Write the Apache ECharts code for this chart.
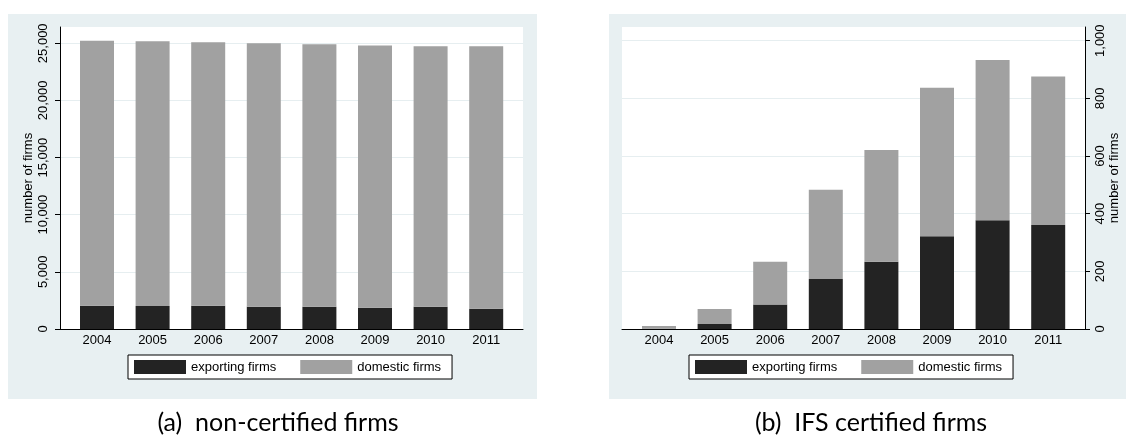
<!DOCTYPE html>
<html>
<head>
<meta charset="utf-8">
<script src="https://cdn.jsdelivr.net/npm/echarts@6/dist/echarts.min.js"></script>
<style>
  html, body { margin: 0; padding: 0; background: #fff; }
  .panel { position: absolute; top: 14px; height: 385px; background: #e8f0f2; }
  #chart { position: absolute; left: 0; top: 0; width: 1126px; height: 441px; }
</style>
</head>
<body>
<div class="panel" style="left:8px;width:529px;"></div>
<div class="panel" style="left:609px;width:517px;"></div>
<div id="chart"></div>
<script>
// data
const years = ['2004', '2005', '2006', '2007', '2008', '2009', '2010', '2011'];
const exportingA = [2040, 2010, 2040, 1950, 1950, 1870, 1950, 1780];
const domesticA = [23190, 23170, 23050, 23050, 22960, 22930, 22790, 22960];
const exportingB = [1, 17, 85, 173, 233, 322, 377, 361];
const domesticB = [9, 52, 148, 310, 388, 515, 556, 515];
const ticksA = [0, 5000, 10000, 15000, 20000, 25000];
const ticksB = [0, 200, 400, 600, 800, 1000];

const dark = '#232323';
const light = '#a1a1a1';
const font = 'Liberation Sans, Arial, sans-serif';

const chart = echarts.init(document.getElementById('chart'));

const fmt = v => Number(v).toLocaleString('en-US');

// one panel = outer grid (white plot area + y axis) and inner grid (bars)
function panel(n, cfg) {
  const g = n * 2;
  const grids = [
    { left: cfg.plotLeft, top: 27, width: 463, height: 302, show: true, backgroundColor: '#fff', borderWidth: 0 },
    { left: cfg.plotLeft + 9.2, top: 27, width: 444.8, height: 302 }
  ];
  const xAxes = [
    { gridIndex: g, type: 'category', data: [''],
      axisLine: { lineStyle: { color: '#000', width: 1 } },
      axisTick: { show: false }, axisLabel: { show: false }, splitLine: { show: false } },
    { gridIndex: g + 1, type: 'category', data: years,
      axisLine: { show: false }, axisTick: { show: false },
      axisLabel: { color: '#000', fontSize: 13, fontFamily: font, margin: 5 } }
  ];
  const yAxes = [
    { gridIndex: g, type: 'value', position: cfg.side, min: 0, max: cfg.max,
      name: 'number of firms', nameLocation: 'middle', nameRotate: 90, nameGap: cfg.nameGap,
      nameTextStyle: { color: '#000', fontSize: 13, fontFamily: font },
      axisLine: { show: true, lineStyle: { color: '#000', width: 1 } },
      axisTick: { show: true, length: 5, customValues: cfg.ticks, lineStyle: { color: '#000' } },
      axisLabel: { rotate: 90, margin: cfg.labelMargin, color: '#000', fontSize: 13, fontFamily: font,
        customValues: cfg.ticks, formatter: fmt },
      splitLine: { show: true, lineStyle: { color: '#e6eef0', width: 1 } } },
    { gridIndex: g + 1, type: 'value', min: 0, max: cfg.max, show: false }
  ];
  const series = [
    { name: 'exporting firms', type: 'bar', stack: 'p' + n, xAxisIndex: g + 1, yAxisIndex: g + 1,
      barWidth: 34, itemStyle: { color: dark }, data: cfg.exporting },
    { name: 'domestic firms', type: 'bar', stack: 'p' + n, xAxisIndex: g + 1, yAxisIndex: g + 1,
      barWidth: 34, itemStyle: { color: light }, data: cfg.domestic }
  ];
  const legend = {
    left: cfg.legendLeft, top: 355, orient: 'horizontal',
    data: ['exporting firms', 'domestic firms'],
    icon: 'rect', itemWidth: 52, itemHeight: 14, itemGap: 24,
    padding: [5, 11, 5, 6], borderColor: '#000', borderWidth: 1, backgroundColor: '#fff',
    textStyle: { color: '#000', fontSize: 13, fontFamily: font }
  };
  return { grids, xAxes, yAxes, series, legend };
}

const a = panel(0, { plotLeft: 60, side: 'left', max: 26425, ticks: ticksA, nameGap: 25, labelMargin: 10,
  exporting: exportingA, domestic: domesticA, legendLeft: 128 });
const b = panel(1, { plotLeft: 622, side: 'right', max: 1047.5, ticks: ticksB, nameGap: 22, labelMargin: 9,
  exporting: exportingB, domestic: domesticB, legendLeft: 689 });

const captionStyle = { fontFamily: 'Lato, sans-serif', fontWeight: 'normal', fontSize: 25, color: '#000' };

chart.setOption({
  animation: false,
  textStyle: { fontFamily: font },
  title: [
    { text: '(a)  non-certified firms', left: 278, top: 410, padding: 0, textAlign: 'center', textStyle: captionStyle },
    { text: '(b)  IFS certified firms', left: 871, top: 410, padding: 0, textAlign: 'center', textStyle: captionStyle }
  ],
  legend: [a.legend, b.legend],
  grid: a.grids.concat(b.grids),
  xAxis: a.xAxes.concat(b.xAxes),
  yAxis: a.yAxes.concat(b.yAxes),
  series: a.series.concat(b.series)
});
</script>
</body>
</html>
